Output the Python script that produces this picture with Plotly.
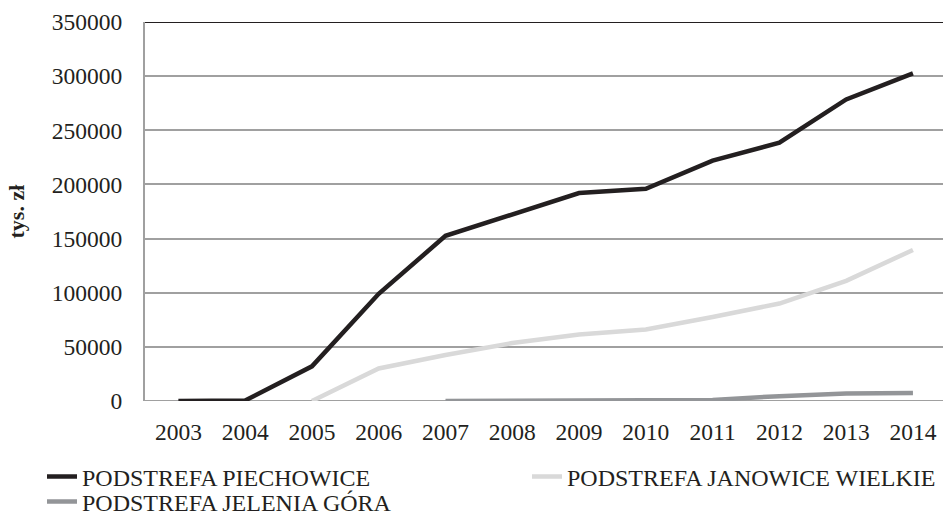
import plotly.graph_objects as go

years = [2003, 2004, 2005, 2006, 2007, 2008, 2009, 2010, 2011, 2012, 2013, 2014]
year_labels = [str(y) for y in years]

piechowice = [0, 500, 32000, 99000, 152500, 172500, 192000, 196000, 222000, 238500, 278500, 302500]
janowice = [None, None, 0, 30000, 42500, 53500, 61500, 66000, 77500, 90000, 111000, 139500]
jelenia = [None, None, None, None, 0, 0, 200, 600, 1000, 4500, 7000, 7500]

names = ["PODSTREFA PIECHOWICE", "PODSTREFA JANOWICE WIELKIE", "PODSTREFA JELENIA GÓRA"]
colors = ["#231F20", "#D9D9D9", "#939598"]
legend_ids = ["legend", "legend2", "legend3"]
y_ticks = [0, 50000, 100000, 150000, 200000, 250000, 300000, 350000]

FONT = "Liberation Serif, Times New Roman, serif"
L, R, T, B = 145, 0, 22, 116
PW, PH = 943 - L - R, 517 - T - B


def px_x(px):
    return (px - L) / PW


def px_y(py):
    return (517 - B - py) / PH


fig = go.Figure()
for vals, nm, col, lg in zip([piechowice, janowice, jelenia], names, colors, legend_ids):
    fig.add_trace(go.Scatter(
        x=years, y=vals, name=nm, mode="lines",
        line=dict(color=col, width=4.5),
        connectgaps=False, legend=lg,
    ))

leg_common = dict(
    orientation="v", xanchor="left", yanchor="middle",
    font=dict(family=FONT, size=24, color="#231F20"),
    bgcolor="rgba(0,0,0,0)", borderwidth=0, itemwidth=30,
)

fig.update_layout(
    width=943, height=517,
    margin=dict(l=L, r=R, t=T, b=B, autoexpand=False),
    paper_bgcolor="white", plot_bgcolor="white",
    font=dict(family=FONT, size=23.5, color="#231F20"),
    showlegend=True,
    legend=dict(x=px_x(42), y=px_y(477), **leg_common),
    legend2=dict(x=px_x(527), y=px_y(477), **leg_common),
    legend3=dict(x=px_x(42), y=px_y(502), **leg_common),
    xaxis=dict(
        range=[2002.5, 2014.45],
        tickvals=years, ticktext=year_labels,
        showgrid=False, zeroline=False,
        showline=False,
        ticks="", ticklabelstandoff=14,
        tickfont=dict(family=FONT, size=23.5, color="#231F20"),
        fixedrange=True,
    ),
    yaxis=dict(
        range=[0, 350000],
        tickvals=y_ticks, ticktext=[str(v) for v in y_ticks],
        showgrid=True, gridcolor="#A0A0A0", gridwidth=1.5,
        zeroline=False,
        showline=True, linecolor="#A0A0A0", linewidth=2,
        ticks="", ticklabelstandoff=16,
        tickfont=dict(family=FONT, size=23.5, color="#231F20"),
        fixedrange=True,
    ),
    annotations=[dict(
        text="<b>tys. zł</b>", textangle=-90,
        xref="paper", yref="paper",
        x=px_x(16), y=0.5, xanchor="center", yanchor="middle",
        showarrow=False, font=dict(family=FONT, size=22, color="#231F20"),
    )],
    shapes=[
        dict(type="line", xref="paper", yref="y", x0=0, x1=1, y0=350000, y1=350000,
             line=dict(color="#231F20", width=2), layer="below"),
        dict(type="line", xref="paper", yref="y", x0=0, x1=1, y0=0, y1=0,
             line=dict(color="#A0A0A0", width=2), layer="below"),
    ],
)

fig.write_html(
    "out.html",
    config={"displayModeBar": False},
    post_script="document.body.style.margin='0';document.body.style.overflow='hidden';",
)
